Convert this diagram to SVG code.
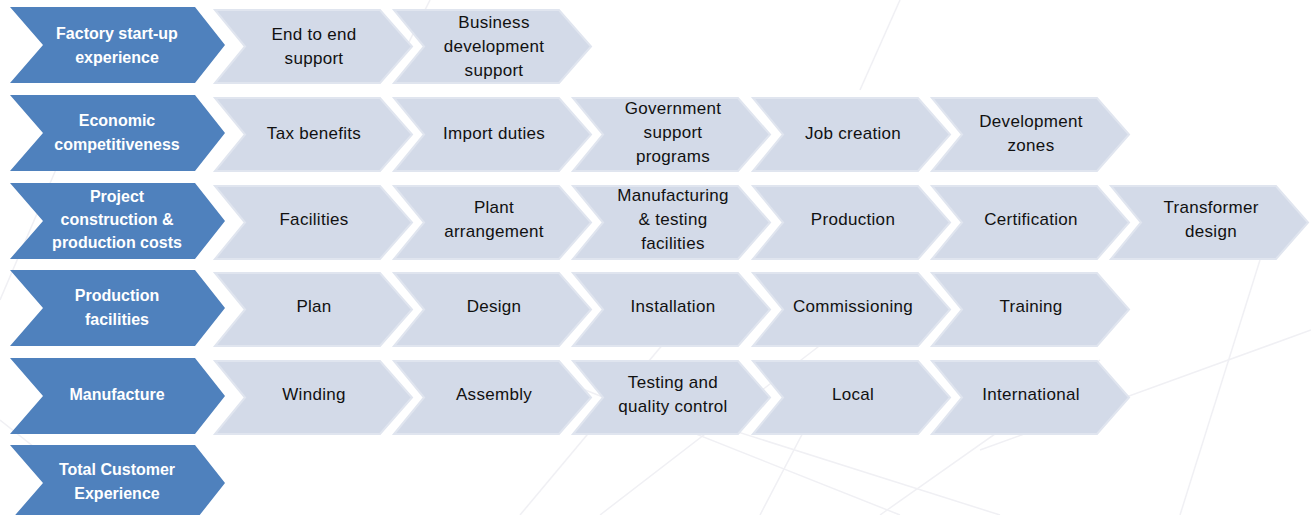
<svg xmlns="http://www.w3.org/2000/svg" width="1311" height="515" viewBox="0 0 1311 515">
<style>
.bg line{stroke:#f0f0f4;stroke-width:1.5}
.cat{fill:#4f81bd}
.item{fill:#d3dae8;stroke:#e0e5ef;stroke-width:2}
.ct{font-family:"Liberation Sans",Arial,sans-serif;font-size:16px;font-weight:bold;fill:#ffffff;text-anchor:middle;dominant-baseline:central}
.it{font-family:"Liberation Sans",Arial,sans-serif;font-size:17px;fill:#111111;text-anchor:middle;dominant-baseline:central;letter-spacing:0.3px}
</style>
<defs>
<polygon id="blue" points="0,0 185,0 215,38 185,76 0,76 33,38"/>
<polygon id="light" points="0,0 165,0 197,36.5 165,73 0,73 30,36.5"/>
</defs>
<rect width="1311" height="515" fill="#ffffff"/>
<g class="bg">
<line x1="0" y1="300" x2="60" y2="160"/>
<line x1="0" y1="420" x2="120" y2="515"/>
<line x1="520" y1="515" x2="700" y2="300"/>
<line x1="600" y1="515" x2="840" y2="330"/>
<line x1="560" y1="380" x2="900" y2="515"/>
<line x1="700" y1="420" x2="1000" y2="515"/>
<line x1="760" y1="515" x2="820" y2="400"/>
<line x1="880" y1="515" x2="1100" y2="360"/>
<line x1="980" y1="450" x2="1311" y2="330"/>
<line x1="1180" y1="515" x2="1260" y2="260"/>
<line x1="430" y1="0" x2="400" y2="60"/>
<line x1="900" y1="0" x2="860" y2="90"/>
</g>
<g id="cat1"><use href="#blue" class="cat" x="10" y="7"/><text class="ct" x="117" y="33">Factory start-up</text><text class="ct" x="117" y="57">experience</text></g>
<g id="cat2"><use href="#blue" class="cat" x="10" y="95"/><text class="ct" x="117" y="120">Economic</text><text class="ct" x="117" y="144">competitiveness</text></g>
<g id="cat3"><use href="#blue" class="cat" x="10" y="183"/><text class="ct" x="117" y="196">Project</text><text class="ct" x="117" y="219">construction &amp;</text><text class="ct" x="117" y="242">production costs</text></g>
<g id="cat4"><use href="#blue" class="cat" x="10" y="270"/><text class="ct" x="117" y="295">Production</text><text class="ct" x="117" y="319">facilities</text></g>
<g id="cat5"><use href="#blue" class="cat" x="10" y="358"/><text class="ct" x="117" y="394">Manufacture</text></g>
<g id="cat6"><use href="#blue" class="cat" x="10" y="445"/><text class="ct" x="117" y="469">Total Customer</text><text class="ct" x="117" y="493">Experience</text></g>

<g id="r1c1"><use href="#light" class="item" x="215" y="10"/><text class="it" x="314" y="34">End to end</text><text class="it" x="314" y="58">support</text></g>
<g id="r1c2"><use href="#light" class="item" x="394" y="10"/><text class="it" x="494" y="22">Business</text><text class="it" x="494" y="46">development</text><text class="it" x="494" y="70">support</text></g>

<g id="r2c1"><use href="#light" class="item" x="215" y="98"/><text class="it" x="314" y="133">Tax benefits</text></g>
<g id="r2c2"><use href="#light" class="item" x="394" y="98"/><text class="it" x="494" y="133">Import duties</text></g>
<g id="r2c3"><use href="#light" class="item" x="573" y="98"/><text class="it" x="673" y="108">Government</text><text class="it" x="673" y="132">support</text><text class="it" x="673" y="156">programs</text></g>
<g id="r2c4"><use href="#light" class="item" x="753" y="98"/><text class="it" x="853" y="133">Job creation</text></g>
<g id="r2c5"><use href="#light" class="item" x="932" y="98"/><text class="it" x="1031" y="121">Development</text><text class="it" x="1031" y="145">zones</text></g>

<g id="r3c1"><use href="#light" class="item" x="215" y="186"/><text class="it" x="314" y="219">Facilities</text></g>
<g id="r3c2"><use href="#light" class="item" x="394" y="186"/><text class="it" x="494" y="207">Plant</text><text class="it" x="494" y="231">arrangement</text></g>
<g id="r3c3"><use href="#light" class="item" x="573" y="186"/><text class="it" x="673" y="195">Manufacturing</text><text class="it" x="673" y="219">&amp; testing</text><text class="it" x="673" y="243">facilities</text></g>
<g id="r3c4"><use href="#light" class="item" x="753" y="186"/><text class="it" x="853" y="219">Production</text></g>
<g id="r3c5"><use href="#light" class="item" x="932" y="186"/><text class="it" x="1031" y="219">Certification</text></g>
<g id="r3c6"><use href="#light" class="item" x="1111" y="186"/><text class="it" x="1211" y="207">Transformer</text><text class="it" x="1211" y="231">design</text></g>

<g id="r4c1"><use href="#light" class="item" x="215" y="273"/><text class="it" x="314" y="306">Plan</text></g>
<g id="r4c2"><use href="#light" class="item" x="394" y="273"/><text class="it" x="494" y="306">Design</text></g>
<g id="r4c3"><use href="#light" class="item" x="573" y="273"/><text class="it" x="673" y="306">Installation</text></g>
<g id="r4c4"><use href="#light" class="item" x="753" y="273"/><text class="it" x="853" y="306">Commissioning</text></g>
<g id="r4c5"><use href="#light" class="item" x="932" y="273"/><text class="it" x="1031" y="306">Training</text></g>

<g id="r5c1"><use href="#light" class="item" x="215" y="361"/><text class="it" x="314" y="394">Winding</text></g>
<g id="r5c2"><use href="#light" class="item" x="394" y="361"/><text class="it" x="494" y="394">Assembly</text></g>
<g id="r5c3"><use href="#light" class="item" x="573" y="361"/><text class="it" x="673" y="382">Testing and</text><text class="it" x="673" y="406">quality control</text></g>
<g id="r5c4"><use href="#light" class="item" x="753" y="361"/><text class="it" x="853" y="394">Local</text></g>
<g id="r5c5"><use href="#light" class="item" x="932" y="361"/><text class="it" x="1031" y="394">International</text></g>
<g id="connectors"/>
</svg>
